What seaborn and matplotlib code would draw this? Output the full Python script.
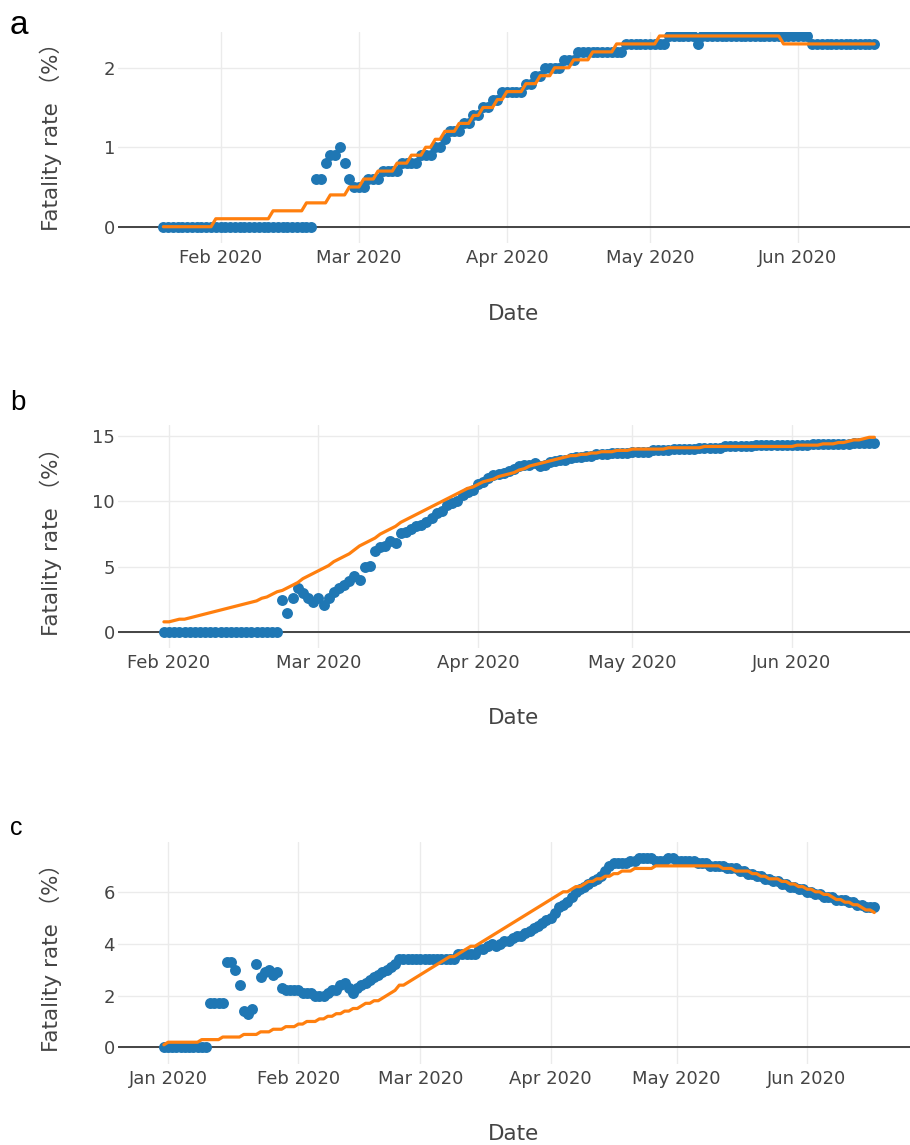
import pandas as pd
import matplotlib
matplotlib.use("Agg")
import matplotlib.pyplot as plt
import seaborn as sns

# ---------------- data (daily values, %) ----------------
start_a = "2020-01-20"
blue_a = [
    0, 0, 0, 0, 0, 0, 0, 0, 0, 0,
    0, 0, 0, 0, 0, 0, 0, 0, 0, 0,
    0, 0, 0, 0, 0, 0, 0, 0, 0, 0,
    0, 0, 0.6, 0.6, 0.8, 0.9, 0.9, 1.0, 0.8, 0.6,
    0.5, 0.5, 0.5, 0.6, 0.6, 0.6, 0.7, 0.7, 0.7, 0.7,
    0.8, 0.8, 0.8, 0.8, 0.9, 0.9, 0.9, 1.0, 1.0, 1.1,
    1.2, 1.2, 1.2, 1.3, 1.3, 1.4, 1.4, 1.5, 1.5, 1.6,
    1.6, 1.7, 1.7, 1.7, 1.7, 1.7, 1.8, 1.8, 1.9, 1.9,
    2.0, 2.0, 2.0, 2.0, 2.1, 2.1, 2.1, 2.2, 2.2, 2.2,
    2.2, 2.2, 2.2, 2.2, 2.2, 2.2, 2.2, 2.3, 2.3, 2.3,
    2.3, 2.3, 2.3, 2.3, 2.3, 2.3, 2.4, 2.4, 2.4, 2.4,
    2.4, 2.4, 2.3, 2.4, 2.4, 2.4, 2.4, 2.4, 2.4, 2.4,
    2.4, 2.4, 2.4, 2.4, 2.4, 2.4, 2.4, 2.4, 2.4, 2.4,
    2.4, 2.4, 2.4, 2.4, 2.4, 2.4, 2.3, 2.3, 2.3, 2.3,
    2.3, 2.3, 2.3, 2.3, 2.3, 2.3, 2.3, 2.3, 2.3, 2.3,
]
orange_a = [
    0, 0, 0, 0, 0, 0, 0, 0, 0, 0,
    0, 0.1, 0.1, 0.1, 0.1, 0.1, 0.1, 0.1, 0.1, 0.1,
    0.1, 0.1, 0.1, 0.2, 0.2, 0.2, 0.2, 0.2, 0.2, 0.2,
    0.3, 0.3, 0.3, 0.3, 0.3, 0.4, 0.4, 0.4, 0.4, 0.5,
    0.5, 0.5, 0.6, 0.6, 0.6, 0.7, 0.7, 0.7, 0.7, 0.8,
    0.8, 0.8, 0.9, 0.9, 0.9, 1.0, 1.0, 1.1, 1.1, 1.2,
    1.2, 1.2, 1.3, 1.3, 1.3, 1.4, 1.4, 1.5, 1.5, 1.5,
    1.6, 1.6, 1.7, 1.7, 1.7, 1.7, 1.8, 1.8, 1.8, 1.9,
    1.9, 1.9, 2.0, 2.0, 2.0, 2.0, 2.1, 2.1, 2.1, 2.1,
    2.2, 2.2, 2.2, 2.2, 2.2, 2.3, 2.3, 2.3, 2.3, 2.3,
    2.3, 2.3, 2.3, 2.3, 2.4, 2.4, 2.4, 2.4, 2.4, 2.4,
    2.4, 2.4, 2.4, 2.4, 2.4, 2.4, 2.4, 2.4, 2.4, 2.4,
    2.4, 2.4, 2.4, 2.4, 2.4, 2.4, 2.4, 2.4, 2.4, 2.4,
    2.3, 2.3, 2.3, 2.3, 2.3, 2.3, 2.3, 2.3, 2.3, 2.3,
    2.3, 2.3, 2.3, 2.3, 2.3, 2.3, 2.3, 2.3, 2.3, 2.3,
]

start_b = "2020-01-31"
blue_b = [
    0, 0, 0, 0, 0, 0, 0, 0, 0, 0,
    0, 0, 0, 0, 0, 0, 0, 0, 0, 0,
    0, 0, 0, 2.5, 1.5, 2.6, 3.4, 3.0, 2.6, 2.3,
    2.6, 2.1, 2.6, 3.1, 3.4, 3.6, 3.9, 4.3, 4.0, 5.0,
    5.1, 6.2, 6.5, 6.6, 7.0, 6.8, 7.6, 7.7, 7.9, 8.1,
    8.2, 8.4, 8.7, 9.1, 9.3, 9.7, 9.9, 10.0, 10.5, 10.7,
    10.9, 11.3, 11.5, 11.8, 12.0, 12.1, 12.2, 12.3, 12.5, 12.7,
    12.8, 12.8, 12.9, 12.7, 12.8, 13.0, 13.1, 13.2, 13.2, 13.3,
    13.4, 13.4, 13.5, 13.5, 13.6, 13.6, 13.6, 13.7, 13.7, 13.7,
    13.7, 13.8, 13.8, 13.8, 13.8, 13.9, 13.9, 13.9, 13.9, 14.0,
    14.0, 14.0, 14.0, 14.0, 14.1, 14.1, 14.1, 14.1, 14.1, 14.2,
    14.2, 14.2, 14.2, 14.2, 14.2, 14.3, 14.3, 14.3, 14.3, 14.3,
    14.3, 14.3, 14.3, 14.3, 14.3, 14.3, 14.4, 14.4, 14.4, 14.4,
    14.4, 14.4, 14.4, 14.4, 14.5, 14.5, 14.5, 14.5, 14.5,
]
orange_b = [
    0.8, 0.8, 0.9, 1.0, 1.0, 1.1, 1.2, 1.3, 1.4, 1.5,
    1.6, 1.7, 1.8, 1.9, 2.0, 2.1, 2.2, 2.3, 2.4, 2.6,
    2.7, 2.9, 3.1, 3.2, 3.4, 3.6, 3.8, 4.1, 4.3, 4.5,
    4.7, 4.9, 5.1, 5.4, 5.6, 5.8, 6.0, 6.3, 6.6, 6.8,
    7.0, 7.2, 7.5, 7.7, 7.9, 8.1, 8.4, 8.6, 8.8, 9.0,
    9.2, 9.4, 9.6, 9.8, 10.0, 10.2, 10.4, 10.6, 10.8, 11.0,
    11.1, 11.3, 11.5, 11.6, 11.7, 11.9, 12.0, 12.1, 12.2, 12.4,
    12.5, 12.7, 12.8, 12.9, 13.0, 13.1, 13.2, 13.3, 13.4, 13.5,
    13.5, 13.6, 13.6, 13.7, 13.7, 13.8, 13.8, 13.8, 13.9, 13.9,
    13.9, 14.0, 14.0, 14.0, 14.0, 14.0, 14.0, 14.0, 14.1, 14.1,
    14.1, 14.1, 14.1, 14.1, 14.1, 14.2, 14.2, 14.2, 14.2, 14.2,
    14.2, 14.2, 14.2, 14.2, 14.2, 14.2, 14.2, 14.2, 14.2, 14.2,
    14.2, 14.2, 14.2, 14.3, 14.3, 14.3, 14.3, 14.3, 14.4, 14.4,
    14.4, 14.5, 14.5, 14.6, 14.7, 14.7, 14.8, 14.9, 14.9,
]

start_c = "2019-12-31"
blue_c = [
    0, 0, 0, 0, 0, 0, 0, 0, 0, 0,
    0, 1.7, 1.7, 1.7, 1.7, 3.3, 3.3, 3.0, 2.4, 1.4,
    1.3, 1.5, 3.2, 2.7, 2.9, 3.0, 2.8, 2.9, 2.3, 2.2,
    2.2, 2.2, 2.2, 2.1, 2.1, 2.1, 2.0, 2.0, 2.0, 2.1,
    2.2, 2.2, 2.4, 2.5, 2.3, 2.1, 2.3, 2.4, 2.5, 2.6,
    2.7, 2.8, 2.9, 3.0, 3.1, 3.2, 3.4, 3.4, 3.4, 3.4,
    3.4, 3.4, 3.4, 3.4, 3.4, 3.4, 3.4, 3.4, 3.4, 3.4,
    3.6, 3.6, 3.6, 3.6, 3.6, 3.8, 3.8, 3.9, 4.0, 3.9,
    4.0, 4.1, 4.1, 4.2, 4.3, 4.3, 4.4, 4.5, 4.6, 4.7,
    4.8, 4.9, 5.0, 5.2, 5.4, 5.5, 5.6, 5.8, 6.0, 6.1,
    6.2, 6.3, 6.4, 6.5, 6.6, 6.8, 7.0, 7.1, 7.1, 7.1,
    7.1, 7.2, 7.2, 7.3, 7.3, 7.3, 7.3, 7.2, 7.2, 7.2,
    7.3, 7.3, 7.2, 7.2, 7.2, 7.2, 7.2, 7.1, 7.1, 7.1,
    7.0, 7.0, 7.0, 7.0, 6.9, 6.9, 6.9, 6.8, 6.8, 6.7,
    6.7, 6.6, 6.6, 6.5, 6.5, 6.4, 6.4, 6.3, 6.3, 6.2,
    6.2, 6.1, 6.1, 6.0, 6.0, 5.9, 5.9, 5.8, 5.8, 5.8,
    5.7, 5.7, 5.7, 5.6, 5.6, 5.5, 5.5, 5.4, 5.4, 5.4,
]
orange_c = [
    0.1, 0.2, 0.2, 0.2, 0.2, 0.2, 0.2, 0.2, 0.2, 0.3,
    0.3, 0.3, 0.3, 0.3, 0.4, 0.4, 0.4, 0.4, 0.4, 0.5,
    0.5, 0.5, 0.5, 0.6, 0.6, 0.6, 0.7, 0.7, 0.7, 0.8,
    0.8, 0.8, 0.9, 0.9, 1.0, 1.0, 1.0, 1.1, 1.1, 1.2,
    1.2, 1.3, 1.3, 1.4, 1.4, 1.5, 1.5, 1.6, 1.7, 1.7,
    1.8, 1.8, 1.9, 2.0, 2.1, 2.2, 2.4, 2.4, 2.5, 2.6,
    2.7, 2.8, 2.9, 3.0, 3.1, 3.2, 3.3, 3.4, 3.5, 3.5,
    3.6, 3.7, 3.8, 3.9, 3.9, 4.0, 4.1, 4.2, 4.3, 4.4,
    4.5, 4.6, 4.7, 4.8, 4.9, 5.0, 5.1, 5.2, 5.3, 5.4,
    5.5, 5.6, 5.7, 5.8, 5.9, 6.0, 6.0, 6.1, 6.2, 6.2,
    6.3, 6.4, 6.4, 6.5, 6.5, 6.6, 6.6, 6.7, 6.7, 6.8,
    6.8, 6.8, 6.9, 6.9, 6.9, 6.9, 6.9, 7.0, 7.0, 7.0,
    7.0, 7.0, 7.0, 7.0, 7.0, 7.0, 7.0, 7.0, 7.0, 7.0,
    7.0, 7.0, 7.0, 6.9, 6.9, 6.9, 6.8, 6.8, 6.8, 6.8,
    6.7, 6.7, 6.6, 6.6, 6.5, 6.5, 6.5, 6.4, 6.4, 6.3,
    6.3, 6.2, 6.2, 6.1, 6.1, 6.0, 6.0, 5.9, 5.9, 5.8,
    5.7, 5.7, 5.6, 5.6, 5.5, 5.5, 5.4, 5.3, 5.3, 5.2,
]

yticks_a = [0, 1, 2]
yticks_b = [0, 5, 10, 15]
yticks_c = [0, 2, 4, 6]
xticks_a = ["2020-02-01", "2020-03-01", "2020-04-01", "2020-05-01", "2020-06-01"]
xticks_b = ["2020-02-01", "2020-03-01", "2020-04-01", "2020-05-01", "2020-06-01"]
xticks_c = ["2020-01-01", "2020-02-01", "2020-03-01", "2020-04-01", "2020-05-01", "2020-06-01"]
month_labels = {"01": "Jan 2020", "02": "Feb 2020", "03": "Mar 2020",
                "04": "Apr 2020", "05": "May 2020", "06": "Jun 2020"}
panel_letters = ["a", "b", "c"]
y_label = "Fatality rate （%）"
x_label = "Date"

# ---------------- style ----------------
sns.set_theme(style="white")
plt.rcParams["font.family"] = ["DejaVu Sans", "Noto Sans CJK JP"]

W, H = 910, 1145
fig = plt.figure(figsize=(W / 100, H / 100), dpi=100)
fig.patch.set_facecolor("white")

BLUE = "#1f77b4"
ORANGE = "#ff7f0e"
TXT = "#444444"

panels = [
    dict(start=start_a, blue=blue_a, orange=orange_a, top=32, bottom=243,
         xlim=("2020-01-10 12:00", "2020-06-24 12:00"), ylim=(-0.205, 2.45),
         yticks=yticks_a, xticks=xticks_a, ylab_y=0.53,
         letter_pos=(10, 34), letter_size=24),
    dict(start=start_b, blue=blue_b, orange=orange_b, top=425, bottom=648,
         xlim=("2020-01-22 02:00", "2020-06-23 22:00"), ylim=(-1.2, 15.84),
         yticks=yticks_b, xticks=xticks_b, ylab_y=0.5,
         letter_pos=(10, 410), letter_size=20),
    dict(start=start_c, blue=blue_c, orange=orange_c, top=842, bottom=1064,
         xlim=("2019-12-20 02:00", "2020-06-25 12:00"), ylim=(-0.64, 7.92),
         yticks=yticks_c, xticks=xticks_c, ylab_y=0.5,
         letter_pos=(10, 835), letter_size=18),
]

AX_LEFT, AX_RIGHT = 118, 910

for letter, p in zip(panel_letters, panels):
    h_px = p["bottom"] - p["top"]
    ax = fig.add_axes([AX_LEFT / W, 1 - p["bottom"] / H,
                       (AX_RIGHT - AX_LEFT) / W, h_px / H])
    ax.set_facecolor("white")

    dates = pd.date_range(p["start"], periods=len(p["blue"]), freq="D")
    df_obs = pd.DataFrame({"date": dates, "rate": p["blue"]})
    df_fit = pd.DataFrame({"date": dates, "rate": p["orange"]})

    ax.axhline(0, color="#444444", linewidth=1.4, zorder=1.5)
    sns.scatterplot(data=df_obs, x="date", y="rate", ax=ax, color=BLUE,
                    s=62, linewidth=0, zorder=3, legend=False)
    sns.lineplot(data=df_fit, x="date", y="rate", ax=ax, color=ORANGE,
                 linewidth=2.3, zorder=4, legend=False)

    ax.set_xlim(pd.Timestamp(p["xlim"][0]), pd.Timestamp(p["xlim"][1]))
    ax.set_ylim(*p["ylim"])
    ticks = pd.to_datetime(p["xticks"])
    ax.set_xticks(ticks)
    ax.set_xticklabels([month_labels[t[5:7]] for t in p["xticks"]])
    ax.set_yticks(p["yticks"])
    ax.set_yticklabels([str(v) for v in p["yticks"]])

    ax.grid(True, color="#ebebeb", linewidth=1.0, zorder=0)
    ax.set_axisbelow(True)
    for s in ax.spines.values():
        s.set_visible(False)
    ax.tick_params(axis="x", length=0, labelsize=13, labelcolor=TXT, pad=4.5)
    ax.tick_params(axis="y", length=0, labelsize=13, labelcolor=TXT, pad=2.2)

    ax.set_xlabel(x_label, fontsize=15.5, color=TXT)
    ax.xaxis.set_label_coords(0.5, -76.5 / h_px)
    ax.xaxis.label.set_verticalalignment("baseline")

    ax.set_ylabel(y_label, fontsize=15.5, color=TXT)
    ax.yaxis.set_label_coords((57.5 - AX_LEFT) / (AX_RIGHT - AX_LEFT), p["ylab_y"])
    ax.yaxis.label.set_verticalalignment("baseline")

    lx, ly = p["letter_pos"]
    fig.text(lx / W, 1 - ly / H, letter, fontsize=p["letter_size"],
             family="Liberation Sans", color="black", ha="left", va="baseline")

fig.savefig("out.png", dpi=100, facecolor="white")
